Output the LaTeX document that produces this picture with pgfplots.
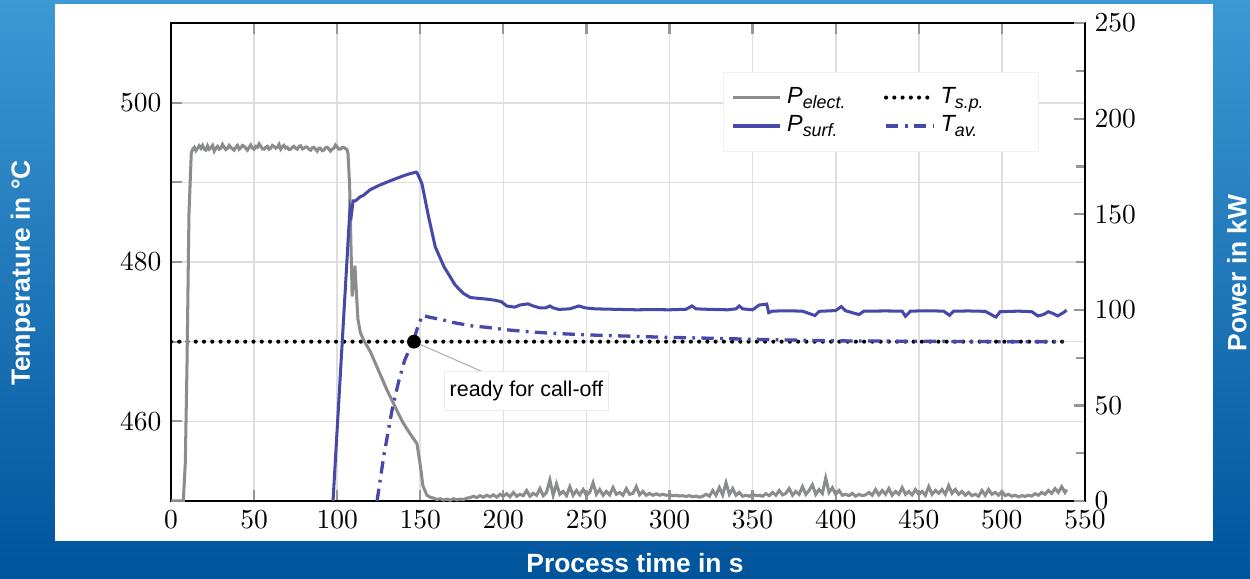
\documentclass[border=0pt]{standalone}
\usepackage{fontspec}
\usepackage{pgfplots}
\pgfplotsset{compat=1.18}
\newfontfamily\arial{Liberation Sans}
\definecolor{pgray}{RGB}{138,140,142}
\definecolor{pblue}{RGB}{72,72,168}
\definecolor{bgtop}{RGB}{62,152,212}
\definecolor{bgmid}{RGB}{0,108,180}
\definecolor{bgbot}{RGB}{0,84,156}
\definecolor{gridc}{RGB}{222,222,222}
\definecolor{tickc}{RGB}{150,150,150}
\newcommand\lsub[1]{\raisebox{-1.8pt}{\fontsize{6.5}{7}\selectfont #1}}

\pgfplotstableread{
t P
0 0
7.4 0
8.6 20
9.6 70
10.8 150
12.2 182
13 184
14 185
15 183.2
16 184.5
17 185.8
18 184.5
19 186
20 184
21 183.5
22 185.8
23 184
24 184.8
25 186
26 183
27 184.5
28 185.5
29 184
30 184.5
31 186.5
32 185
33 183.8
34 184.5
35 186
36 185
37 184.2
38 183.5
39 185
40 186
41 184
42 184.8
43 186
44 185.5
45 184.5
46 183.5
47 185
48 186.2
49 184.5
50 184
51 185.5
52 185
53 186.8
54 185.5
55 184.2
56 184
57 185
58 185.5
59 184
60 184.5
61 186
62 185.5
63 184.5
64 185
65 186.5
66 184
67 185.2
68 186
69 184.6
70 185
71 183.8
72 184
73 185
74 185.5
75 184.5
76 184
77 185.5
78 185.8
79 184.2
80 184.5
81 185.2
82 185
83 184
84 183.5
85 184.8
86 185
87 184
88 183
89 184.5
90 184.5
91 183.2
92 183.5
93 184.8
94 185
95 184
96 183
97 184
98 184.5
99 186.2
100 185.2
101 184
102 184
103 185
104 185
105 184.2
105.8 184
106.5 182
107.5 165
108.4 130
109 107
110 116
110.7 123
111.5 110
112.5 95
114 88
116 84
120 78
125 68
130 58
135 49
139.6 41
144 35
148 30
149.8 20
151.6 8
154 3
156 2
158 1.5
160 0.8
162 1.2
164 0.5
166 1.0
168 0.4
170 1.2
172 0.6
174 1.0
176 0.8
178 1.5
180 1.8
182 2.5
184 1.8
186 2.8
188 2.0
190 3.0
192 2.2
194 3.2
196 2.0
198 3.5
200 2.5
202 3.8
204 2.2
206 4.5
208 2.5
210 3.5
212 2.8
214 5.5
216 2.5
218 4.0
220 3.0
222 6.5
224 2.8
226 4.5
228 11.0
230 3.0
232 9.0
234 3.5
236 5.0
238 2.8
240 7.5
242 3.0
244 5.5
246 3.2
248 6.0
250 3.0
252 4.5
254 9.5
256 3.5
258 6.0
260 3.0
262 5.0
264 3.2
266 7.0
268 3.5
270 4.5
272 3.0
274 6.5
276 3.5
278 4.0
280 7.5
282 3.2
284 5.0
286 3.0
288 4.0
290 3.0
292 3.8
294 3.0
296 3.5
298 3.0
300 3.2
302 2.8
304 3.0
306 2.6
308 2.8
310 2.4
312 2.8
314 2.2
316 2.6
318 2.0
320 2.5
322 3.5
324 2.5
326 5.5
328 3.0
330 7.0
332 3.2
334 9.5
336 3.5
338 6.5
340 3.0
342 4.5
344 2.5
346 3.0
348 2.5
350 3.5
352 2.8
354 3.0
356 2.5
358 3.8
360 2.8
362 4.5
364 3.0
366 5.5
368 3.2
370 4.0
372 6.5
374 3.0
376 5.0
378 3.5
380 7.5
382 3.5
384 5.5
386 8.5
388 3.5
390 6.0
392 4.0
394 12.0
396 4.5
398 7.0
400 3.5
402 5.5
404 3.0
406 3.5
408 2.8
410 4.0
412 2.5
414 3.5
416 2.8
418 3.2
420 4.5
422 3.0
424 6.0
426 3.2
428 5.5
430 3.5
432 6.5
434 3.0
436 5.0
438 3.5
440 7.0
442 3.5
444 5.0
446 3.2
448 6.0
450 3.5
452 5.0
454 3.0
456 7.5
458 3.5
460 5.5
462 4.0
464 6.0
466 3.5
468 8.0
470 4.0
472 6.0
474 3.5
476 5.0
478 3.0
480 4.5
482 2.8
484 3.5
486 2.5
488 5.5
490 3.0
492 6.0
494 3.5
496 4.5
498 3.0
500 5.0
502 2.8
504 3.5
506 2.5
508 3.0
510 2.2
512 2.8
514 2.4
516 3.0
518 2.6
520 3.8
522 3.0
524 4.5
526 3.5
528 5.5
530 4.0
532 6.5
534 4.5
536 7.5
538 4.5
539 6
}\pelect

\pgfplotstableread{
t P
97.5 0
107.7 153
108.6 150
109.6 157
111 157
113.7 159
116 160
119.7 162.7
125 165
130 166.8
135 168.5
139.6 170
143 171
147.4 172
148.2 171.5
151 166
155 148.7
159 133
164.3 122.5
171 113
176 108.5
180.3 106.4
185 106
190.9 105.5
195 105
198.9 104.2
202 102
206.9 101.4
210 102.5
214.8 103.1
218 102
222 101
225.4 101
228 102
230 101
233.4 100.2
240 100.5
245.4 102
249.4 101
255 100.5
260 100.4
270 100.2
280 100
290 100.1
300 100
310 100.3
313.5 102
316 100.5
325 100.2
335 100
340 100.5
342 102
344 100.5
350 100
354 102.5
358.5 103
359.7 98.5
362 99.3
370 99.5
380 99.3
387.5 97
390 99.2
400 99.6
403.4 101.7
406 99.5
414 97.5
417 99.3
430 99.4
440 99.3
442 96.6
445 99.3
455 99.5
465 99.3
468.5 97.1
471 99.3
480 99.4
490 99.2
496.4 96.2
499 99
510 99.3
518 99
521.7 96.8
525 97.5
528 99
531 98
533.6 96.8
537 98.5
539 99.8
}\psurf

\pgfplotstableread{
t T
124 450
128 455.6
133 461.4
137 465
140.5 467.6
143.2 468.9
146.2 470.3
149 472.2
151.5 473.3
155 473.1
164.3 472.7
170 472.4
180.3 472
190 471.8
201.6 471.5
212 471.3
225.4 471.1
240 470.95
257.3 470.8
275 470.7
297.2 470.55
320 470.45
350.2 470.3
375 470.2
403.4 470.1
450 470.05
500 470
537 470
}\tav

\begin{document}
\begin{tikzpicture}[x=0.3636pt,y=0.3636pt]
\path[use as bounding box] (0,0) rectangle (1250,578);
\shade[top color=bgtop, middle color=bgmid, bottom color=bgbot] (0,0) rectangle (1250,578);
\fill[white] (55,37) rectangle (1213,574);
\node[rotate=90, inner sep=0pt, text=white, font=\arial\bfseries\fontsize{9.6}{11}\selectfont] at (23,305) {Temperature in °C};
\node[rotate=90, inner sep=0pt, text=white, font=\arial\bfseries\fontsize{9.6}{11}\selectfont] at (1237,305) {Power in kW};
\node[inner sep=0pt, text=white, font=\arial\bfseries\fontsize{9.6}{11}\selectfont] at (635,15) {Process time in s};

\begin{axis}[
  at={(62.18pt,28.0pt)}, anchor=south west,
  scale only axis, width=332.3pt, height=173.8pt,
  xmin=0, xmax=550, ymin=450, ymax=510,
  xtick={0,50,...,550}, ytick={460,480,500}, minor ytick={470,490},
  ytick pos=left,
  xmajorgrids, ymajorgrids, yminorgrids,
  major grid style={gridc, line width=0.6pt},
  minor grid style={gridc, line width=0.6pt},
  tick style={tickc, line width=0.8pt},
  major tick length=4pt, minor tick length=4pt,
  axis line style={black, line width=0.8pt},
  no markers,
]
\addplot[black, line width=1.5pt, dash pattern=on 0pt off 3pt, line cap=round] coordinates {(0,470) (537,470)};
\addplot[pblue, line width=1.2pt, dash pattern=on 4.5pt off 2.3pt on 1pt off 2.3pt] table[x=t,y=T] {\tav};
\draw[gray!60, line width=0.4pt] (axis cs:146.2,470) -- (axis cs:187.7,466.2);
\addplot[only marks, mark=*, mark size=2.3pt, black] coordinates {(146.2,470)};
\node[fill=white, draw=gray!15, line width=0.4pt, inner xsep=2pt, inner ysep=3.5pt, font=\arial\fontsize{7.8}{9}\selectfont] at (axis cs:213.9,463.8) {ready for call-off};
\end{axis}

\begin{axis}[
  at={(62.18pt,28.0pt)}, anchor=south west,
  scale only axis, width=332.3pt, height=173.8pt,
  xmin=0, xmax=550, ymin=0, ymax=250,
  hide x axis,
  axis y line*=right,
  y axis line style={-, line width=0.8pt},
  ytick={0,50,...,250}, minor ytick={25,75,...,225},
  tick style={tickc, line width=0.8pt},
  major tick length=4pt, minor tick length=3.3pt,
  no markers,
  legend columns=2,
  legend cell align=left,
  legend style={at={(0.95,0.898)}, anchor=north east, draw=gray!12, fill=white,
    font=\arial\fontsize{8.5}{10}\selectfont\itshape, inner xsep=3pt, inner ysep=3.5pt, row sep=-1pt,
    /tikz/every even column/.append style={column sep=12pt}},
]
\addplot[pgray, line width=1.1pt] table[x=t,y=P] {\pelect};
\addlegendentry{P\lsub{elect.}}
\addlegendimage{black, line width=1.5pt, dash pattern=on 0pt off 3pt, line cap=round}
\addlegendentry{T\lsub{s.p.}\rule{15pt}{0pt}}
\addplot[pblue, line width=1.1pt] table[x=t,y=P] {\psurf};
\addlegendentry{P\lsub{surf.}}
\addlegendimage{pblue, line width=1.2pt, dash pattern=on 4.5pt off 2.3pt on 1pt off 2.3pt}
\addlegendentry{T\lsub{av.}}
\end{axis}
\end{tikzpicture}
\end{document}
